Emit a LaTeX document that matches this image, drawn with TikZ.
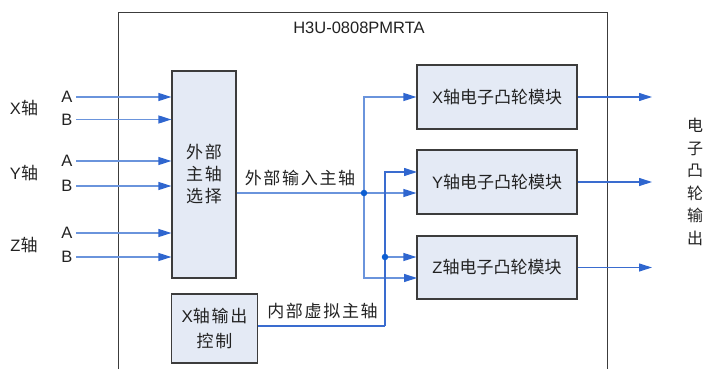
\documentclass[tikz,border=0pt]{standalone}
\usepackage{fontspec}
\setmainfont{Liberation Sans}
\newfontfamily\cjk{Noto Sans CJK SC}
\newfontfamily\cjkw[LetterSpace=10]{Noto Sans CJK SC}
\usetikzlibrary{arrows.meta}
\definecolor{boxfill}{HTML}{E4EAF5}
\definecolor{boxline}{HTML}{3C3C3C}
\definecolor{wirea}{HTML}{6A94DC}
\definecolor{wireb}{HTML}{3A6CCF}
\definecolor{tipc}{HTML}{2F66CF}
\definecolor{dotc}{HTML}{0E5FD2}
\definecolor{txt}{HTML}{222222}
\tikzset{
  box/.style={draw=boxline, fill=boxfill, line width=1.2pt, inner sep=0pt, text=txt, align=center},
  wire/.style={draw=wirea, line width=1.2pt},
  wiredark/.style={draw=wireb, line width=1.1pt},
  arr/.style={-{Triangle[length=13pt,width=8pt,color=tipc]}},
  lat/.style={font=\fontsize{16.5}{20}\selectfont, text=txt, inner sep=0pt},
  cj/.style={font=\fontsize{17}{22}\selectfont\cjkw, text=txt, inner sep=0pt},
  jdot/.style={circle, fill=dotc, inner sep=0pt, minimum size=6.5pt}
}
\begin{document}
\begin{tikzpicture}[x=1pt,y=-1pt]
\useasboundingbox (0,0) rectangle (703,369);
% outer frame
\draw[draw=boxline, line width=1pt] (118,369) -- (118,12.5) -- (607.5,12.5) -- (607.5,369);
\node[lat] (title) at (359,28) {H3U-0808PMRTA};

% main boxes
\node[box, minimum width=64pt, minimum height=207pt, font=\fontsize{17}{22}\selectfont\cjkw] (sel) at (204,174.5) {外部\\主轴\\选择};
\node[box, minimum width=85.5pt, minimum height=69pt, font=\fontsize{17}{25}\selectfont] (ctrl) at (214.5,328.5) {X{\cjkw 轴输出}\\{\cjkw 控制}};
\node[box, minimum width=160pt, minimum height=64pt, font=\fontsize{16.5}{20}\selectfont] (xbox) at (497,97) {X{\cjk\fontsize{17}{20}\selectfont 轴电子凸轮模块}};
\node[box, minimum width=160pt, minimum height=64pt, font=\fontsize{16.5}{20}\selectfont] (ybox) at (497,182) {Y{\cjk\fontsize{17}{20}\selectfont 轴电子凸轮模块}};
\node[box, minimum width=160pt, minimum height=63pt, font=\fontsize{16.5}{20}\selectfont] (zbox) at (497,267.5) {Z{\cjk\fontsize{17}{20}\selectfont 轴电子凸轮模块}};

% input labels
\node[lat] (xl) at (24,108) {X{\cjk\fontsize{17}{20}\selectfont 轴}};
\node[lat] (yl) at (24,173) {Y{\cjk\fontsize{17}{20}\selectfont 轴}};
\node[lat] (zl) at (24,245) {Z{\cjk\fontsize{17}{20}\selectfont 轴}};
\node[lat] (xa) at (67,97) {A};
\node[lat] (xb) at (67,119.5) {B};
\node[lat] (ya) at (67,161) {A};
\node[lat] (yb) at (67,186) {B};
\node[lat] (za) at (67,233) {A};
\node[lat] (zb) at (67,257) {B};
\foreach \n in {xa,xb,ya,yb,za,zb}{
  \coordinate (\n s) at ([xshift=9pt]\n.center);
  \draw[wire,arr] (\n s) -- (\n s -| sel.west);
}

% external master axis
\coordinate (j1) at (364,193);
\coordinate (ztwo) at (417,278);
\draw[wire] (sel.east |- j1) -- (j1);
\draw[wire,arr] (j1) -- (j1 -| ybox.west);
\draw[wire,arr] (j1) |- (xbox.west);
\draw[wire,arr] (j1) |- (ztwo);
\node[cj, anchor=south] (extl) at (300,186) {外部输入主轴};

% internal virtual master axis
\coordinate (j2) at (385,257);
\coordinate (c1) at (385,326);
\coordinate (ytop) at (417,172);
\draw[wiredark] (ctrl.east |- c1) -- (c1);
\draw[wiredark,arr] (c1) |- (ytop);
\draw[wire,arr] (j2) -- (j2 -| zbox.west);
\node[cj, anchor=south] (intl) at (322.5,319) {内部虚拟主轴};
\node[jdot] (d1) at (j1) {};
\node[jdot] (d2) at (j2) {};

% outputs
\coordinate (xo) at (652,97);
\coordinate (yo) at (652,182);
\coordinate (zo) at (652,267.5);
\draw[wiredark,arr] (xbox.east) -- (xo);
\draw[wiredark,arr] (ybox.east) -- (yo);
\draw[wiredark,arr] (zbox.east) -- (zo);
\node[font=\fontsize{16}{22.5}\selectfont\cjk, text=txt, align=center, inner sep=0pt] (outl) at (695,182) {电\\子\\凸\\轮\\输\\出};
\end{tikzpicture}
\end{document}
